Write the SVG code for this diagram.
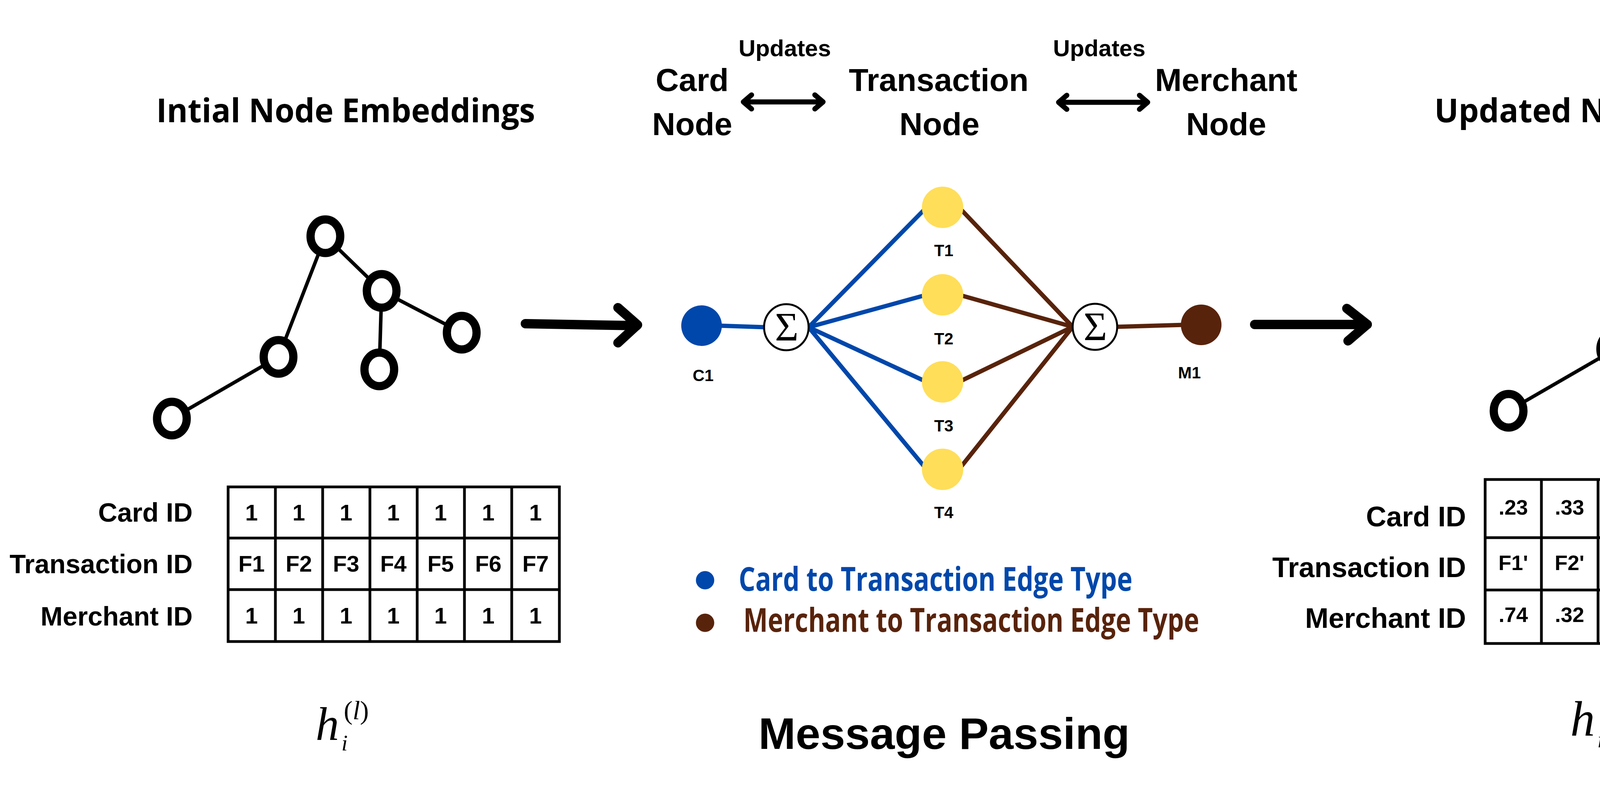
<svg xmlns="http://www.w3.org/2000/svg" width="4827" height="2013" viewBox="0 0 4827 2013">
<style>
.bg{fill:#ffffff}
.head{font-family:"Open Sans","Liberation Sans",sans-serif;font-weight:700;font-size:84px;fill:#000}
.lbl{font-family:"Liberation Sans","Arial",sans-serif;font-weight:700;fill:#000}
.cell{font-family:"Liberation Sans","Arial",sans-serif;font-weight:700;font-size:58px;fill:#000;text-anchor:middle}
.rcell{font-family:"Liberation Sans","Arial",sans-serif;font-weight:700;font-size:54px;fill:#000;text-anchor:middle}
.row{font-family:"Liberation Sans","Arial",sans-serif;font-weight:700;fill:#000;text-anchor:end}
.grid{fill:none;stroke:#000;stroke-width:7}
.tree{stroke:#000;stroke-width:9;fill:none}
.tnode{fill:#fff;stroke:#000;stroke-width:21}
.big{stroke:#000;stroke-width:24;fill:none;stroke-linecap:round;stroke-linejoin:round}
.blue{stroke:#0047AB;stroke-width:11;fill:none}
.brown{stroke:#58230B;stroke-width:11;fill:none}
.sig{fill:#fff;stroke:#000;stroke-width:5}
.sigt{font-family:"Liberation Serif","Times New Roman",serif;font-size:104px;fill:#000;text-anchor:middle}
.nlab{font-family:"Liberation Sans","Arial",sans-serif;font-weight:700;font-size:42px;fill:#000;text-anchor:middle}
.math{font-family:"Liberation Serif","Times New Roman",serif;fill:#000}
.dbl{stroke:#000;stroke-width:13;fill:none;stroke-linecap:round;stroke-linejoin:round}
</style>
<rect class="bg" x="0" y="0" width="4827" height="2013"/>

<!-- Headings -->
<g id="title-initial"><text class="head" x="885" y="313" text-anchor="middle" textLength="970" lengthAdjust="spacingAndGlyphs">Intial Node Embeddings</text></g>
<g id="title-updated"><text class="head" x="4226" y="313" text-anchor="middle" textLength="1108" lengthAdjust="spacingAndGlyphs">Updated Node Embeddings</text></g>

<!-- Top labels -->
<g id="label-card"><text class="lbl" font-size="82" x="1772" y="233" text-anchor="middle">Card</text><text class="lbl" font-size="82" x="1772" y="346" text-anchor="middle">Node</text></g>
<g id="label-transaction"><text class="lbl" font-size="82" x="2403" y="233" text-anchor="middle">Transaction</text><text class="lbl" font-size="82" x="2405" y="346" text-anchor="middle">Node</text></g>
<g id="label-merchant"><text class="lbl" font-size="82" x="3139" y="233" text-anchor="middle">Merchant</text><text class="lbl" font-size="82" x="3139" y="346" text-anchor="middle">Node</text></g>
<g id="label-updates-1"><text class="lbl" font-size="60" x="2009" y="144" text-anchor="middle">Updates</text></g>
<g id="label-updates-2"><text class="lbl" font-size="60" x="2814" y="144" text-anchor="middle">Updates</text></g>

<g id="connectors">
  <!-- double arrows -->
  <path class="dbl" d="M1903 261 H2107 M1924 243 L1903 261 L1924 279 M2086 243 L2107 261 L2086 279"/>
  <path class="dbl" d="M2710 262 H2938 M2731 244 L2710 262 L2731 280 M2917 244 L2938 262 L2917 280"/>

  <!-- big arrows -->
  <path class="big" d="M1345 829 L1630 834"/>
  <path class="big" d="M1582 788 L1632 832 L1582 878"/>
  <path class="big" d="M3212 831 L3500 831"/>
  <path class="big" d="M3448 790 L3500 831 L3451 873"/>

  <!-- left tree edges -->
  <g class="tree">
    <line x1="833" y1="605" x2="713" y2="914"/>
    <line x1="833" y1="605" x2="977" y2="745"/>
    <line x1="977" y1="745" x2="1182" y2="852"/>
    <line x1="977" y1="745" x2="971" y2="946"/>
    <line x1="713" y1="914" x2="440" y2="1072"/>
  </g>
  <!-- right tree edges -->
  <g class="tree" transform="translate(3422,-20)">
    <line x1="833" y1="605" x2="713" y2="914"/>
    <line x1="833" y1="605" x2="977" y2="745"/>
    <line x1="977" y1="745" x2="1182" y2="852"/>
    <line x1="977" y1="745" x2="971" y2="946"/>
    <line x1="713" y1="914" x2="440" y2="1072"/>
  </g>

  <!-- message passing edges -->
  <line class="blue" x1="1840" y1="834" x2="1958" y2="838"/>
  <line class="blue" x1="2070" y1="838" x2="2372" y2="531"/>
  <line class="blue" x1="2070" y1="838" x2="2372" y2="755"/>
  <line class="blue" x1="2070" y1="838" x2="2372" y2="978"/>
  <line class="blue" x1="2070" y1="838" x2="2372" y2="1202"/>
  <line class="brown" x1="2455" y1="531" x2="2746" y2="837"/>
  <line class="brown" x1="2455" y1="755" x2="2746" y2="837"/>
  <line class="brown" x1="2455" y1="978" x2="2746" y2="837"/>
  <line class="brown" x1="2455" y1="1202" x2="2746" y2="837"/>
  <line class="brown" x1="2858" y1="837" x2="3030" y2="832"/>
</g>

<!-- left tree nodes -->
<g id="tree-left">
  <ellipse class="tnode" cx="833" cy="605" rx="38" ry="43"/>
  <ellipse class="tnode" cx="977" cy="745" rx="38" ry="43"/>
  <ellipse class="tnode" cx="1182" cy="852" rx="38" ry="43"/>
  <ellipse class="tnode" cx="971" cy="946" rx="38" ry="43"/>
  <ellipse class="tnode" cx="713" cy="914" rx="38" ry="43"/>
  <ellipse class="tnode" cx="440" cy="1072" rx="38" ry="43"/>
</g>
<!-- right tree nodes -->
<g id="tree-right" transform="translate(3422,-20)">
  <ellipse class="tnode" cx="833" cy="605" rx="38" ry="43"/>
  <ellipse class="tnode" cx="977" cy="745" rx="38" ry="43"/>
  <ellipse class="tnode" cx="1182" cy="852" rx="38" ry="43"/>
  <ellipse class="tnode" cx="971" cy="946" rx="38" ry="43"/>
  <ellipse class="tnode" cx="713" cy="914" rx="38" ry="43"/>
  <ellipse class="tnode" cx="440" cy="1072" rx="38" ry="43"/>
</g>

<!-- message passing nodes -->
<g id="node-c1"><circle cx="1796" cy="834" r="52" fill="#0047AB"/><text class="nlab" x="1800" y="976">C1</text></g>
<g id="node-sum-left"><ellipse class="sig" cx="2013" cy="838" rx="57" ry="59"/><text class="sigt" x="2014" y="872">Σ</text></g>
<g id="node-sum-right"><ellipse class="sig" cx="2803" cy="837" rx="57" ry="59"/><text class="sigt" x="2804" y="871">Σ</text></g>
<g id="node-m1"><circle cx="3075" cy="832" r="52" fill="#58230B"/><text class="nlab" x="3045" y="969">M1</text></g>
<g id="node-t1"><circle cx="2413" cy="531" r="53" fill="#FFDE59"/><text class="nlab" x="2416" y="656">T1</text></g>
<g id="node-t2"><circle cx="2413" cy="755" r="53" fill="#FFDE59"/><text class="nlab" x="2416" y="882">T2</text></g>
<g id="node-t3"><circle cx="2413" cy="978" r="53" fill="#FFDE59"/><text class="nlab" x="2416" y="1105">T3</text></g>
<g id="node-t4"><circle cx="2413" cy="1202" r="53" fill="#FFDE59"/><text class="nlab" x="2416" y="1327">T4</text></g>

<!-- legend -->
<g id="legend-card">
  <circle cx="1805" cy="1486" r="23.5" fill="#0047AB"/>
  <text class="head" font-size="68" x="1891" y="1513" style="fill:#0047AB" textLength="1008" lengthAdjust="spacingAndGlyphs">Card to Transaction Edge Type</text>
</g>
<g id="legend-merchant">
  <circle cx="1805" cy="1595" r="23.5" fill="#58230B"/>
  <text class="head" font-size="68" x="1903" y="1618" style="fill:#58230B" textLength="1167" lengthAdjust="spacingAndGlyphs">Merchant to Transaction Edge Type</text>
</g>

<g id="title-message-passing"><text class="lbl" font-size="114" x="2417" y="1918" text-anchor="middle">Message Passing</text></g>

<!-- left table -->
<g id="table-left">
  <rect class="grid" x="584" y="1247" width="848" height="396"/>
  <line class="grid" x1="584" y1="1378" x2="1432" y2="1378"/>
  <line class="grid" x1="584" y1="1510" x2="1432" y2="1510"/>
  <line class="grid" x1="705" y1="1247" x2="705" y2="1643"/>
  <line class="grid" x1="826" y1="1247" x2="826" y2="1643"/>
  <line class="grid" x1="947" y1="1247" x2="947" y2="1643"/>
  <line class="grid" x1="1068" y1="1247" x2="1068" y2="1643"/>
  <line class="grid" x1="1189" y1="1247" x2="1189" y2="1643"/>
  <line class="grid" x1="1310" y1="1247" x2="1310" y2="1643"/>
  <text class="row" font-size="68" x="493" y="1336">Card ID</text>
  <text class="row" font-size="68" x="493" y="1468">Transaction ID</text>
  <text class="row" font-size="68" x="493" y="1602">Merchant ID</text>
  <text class="cell" x="644" y="1333">1</text><text class="cell" x="765" y="1333">1</text><text class="cell" x="886" y="1333">1</text><text class="cell" x="1007" y="1333">1</text><text class="cell" x="1128" y="1333">1</text><text class="cell" x="1250" y="1333">1</text><text class="cell" x="1371" y="1333">1</text>
  <text class="cell" x="644" y="1464">F1</text><text class="cell" x="765" y="1464">F2</text><text class="cell" x="886" y="1464">F3</text><text class="cell" x="1007" y="1464">F4</text><text class="cell" x="1128" y="1464">F5</text><text class="cell" x="1250" y="1464">F6</text><text class="cell" x="1371" y="1464">F7</text>
  <text class="cell" x="644" y="1597">1</text><text class="cell" x="765" y="1597">1</text><text class="cell" x="886" y="1597">1</text><text class="cell" x="1007" y="1597">1</text><text class="cell" x="1128" y="1597">1</text><text class="cell" x="1250" y="1597">1</text><text class="cell" x="1371" y="1597">1</text>
</g>

<!-- right table -->
<g id="table-right">
  <rect class="grid" x="3802" y="1228" width="993" height="420"/>
  <line class="grid" x1="3802" y1="1377" x2="4795" y2="1377"/>
  <line class="grid" x1="3802" y1="1511" x2="4795" y2="1511"/>
  <line class="grid" x1="3946" y1="1228" x2="3946" y2="1648"/>
  <line class="grid" x1="4091" y1="1228" x2="4091" y2="1648"/>
  <line class="grid" x1="4236" y1="1228" x2="4236" y2="1648"/>
  <line class="grid" x1="4381" y1="1228" x2="4381" y2="1648"/>
  <line class="grid" x1="4525" y1="1228" x2="4525" y2="1648"/>
  <line class="grid" x1="4670" y1="1228" x2="4670" y2="1648"/>
  <text class="row" font-size="72" x="3753" y="1348">Card ID</text>
  <text class="row" font-size="72" x="3753" y="1478">Transaction ID</text>
  <text class="row" font-size="72" x="3753" y="1608">Merchant ID</text>
  <text class="rcell" x="3874" y="1318">.23</text><text class="rcell" x="4018" y="1318">.33</text><text class="rcell" x="4163" y="1318">.12</text><text class="rcell" x="4308" y="1318">.94</text><text class="rcell" x="4453" y="1318">.58</text><text class="rcell" x="4597" y="1318">12</text><text class="rcell" x="4732" y="1318">.11</text>
  <text class="rcell" x="3874" y="1460">F1'</text><text class="rcell" x="4018" y="1460">F2'</text><text class="rcell" x="4163" y="1460">F3'</text><text class="rcell" x="4308" y="1460">F4'</text><text class="rcell" x="4453" y="1460">F5'</text><text class="rcell" x="4597" y="1460">F6'</text><text class="rcell" x="4732" y="1460">F7'</text>
  <text class="rcell" x="3874" y="1593">.74</text><text class="rcell" x="4018" y="1593">.32</text><text class="rcell" x="4163" y="1593">.61</text><text class="rcell" x="4308" y="1593">.10</text><text class="rcell" x="4453" y="1593">12</text><text class="rcell" x="4597" y="1593">.57</text><text class="rcell" x="4732" y="1593">.3</text>
</g>

<!-- math labels -->
<g id="math-left">
  <text class="math" font-size="120" font-style="italic" x="808" y="1895">h</text>
  <text class="math" font-size="58" font-style="italic" x="874" y="1922">i</text>
  <text class="math" font-size="68" x="880" y="1842">(<tspan font-style="italic">l</tspan>)</text>
</g>
<g id="math-right">
  <text class="math" font-size="126" font-style="italic" x="4020" y="1884">h</text>
  <text class="math" font-size="60" font-style="italic" x="4089" y="1914">i</text>
  <text class="math" font-size="80" x="4094" y="1832">(<tspan font-style="italic">l</tspan>+1)</text>
</g>
</svg>
